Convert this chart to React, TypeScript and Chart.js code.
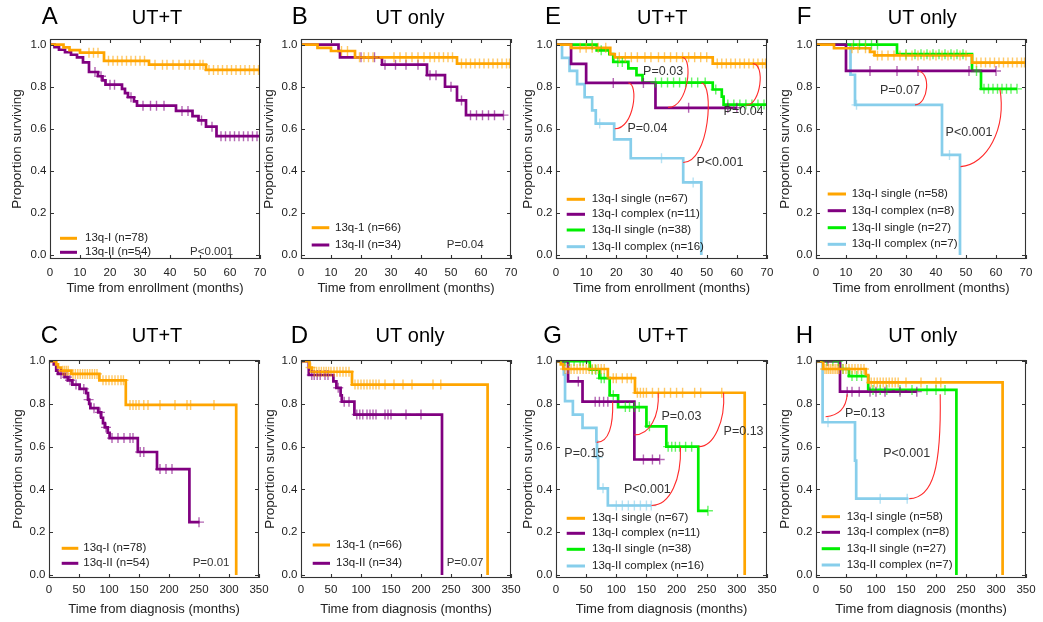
import React, { useEffect, useRef } from "react";
import { Chart, registerables } from "chart.js";
Chart.register(...registerables);

type Step = [number, number];
type Arc = [number, number, number, number, number, number, number, number];
type PLabel = [string, number, number];

const FONT = '"Liberation Sans", Arial, Helvetica, sans-serif';
const ORANGE = "#FFA500";
const PURPLE = "#800080";
const LIME = "#00EE00";
const SKY = "#87CEEB";
const RED = "#FF2A2A";

const ENROLL_TICKS = [0, 10, 20, 30, 40, 50, 60, 70];
const DIAG_TICKS = [0, 50, 100, 150, 200, 250, 300, 350];
const Y_TICKS = [0, 0.2, 0.4, 0.6, 0.8, 1.0];

// ---------- Panel A (UT+T, enrollment) ----------
const A_I_steps: Step[] = [[0, 1], [4.5, 0.987], [6.5, 0.974], [10, 0.962], [18, 0.923], [33, 0.905], [52, 0.88], [70, 0.88]];
const A_I_cens = [13, 14.5, 16, 19.5, 21, 22.5, 24, 25.5, 27, 28.5, 30, 31.5, 35, 37.5, 39, 41, 43, 45, 46.5, 48, 50, 51, 53, 54.5, 56, 57.5, 59, 60.5, 62, 63.5, 65, 66.5, 68, 69.5];
const A_II_steps: Step[] = [[0, 1], [1.5, 0.988], [3, 0.976], [5, 0.964], [7, 0.952], [9, 0.94], [11, 0.916], [13, 0.87], [16, 0.85], [17.5, 0.83], [18.5, 0.81], [24, 0.79], [25, 0.77], [26, 0.75], [28, 0.73], [29, 0.71], [42, 0.685], [47.5, 0.66], [49.5, 0.64], [52, 0.61], [55.5, 0.565], [70, 0.565]];
const A_II_cens = [15, 17, 20, 21.5, 27, 31, 33.5, 35.5, 38, 44, 46, 50.5, 54, 57, 58.5, 60, 61.5, 63, 64.5, 66, 67.5, 69];

// ---------- Panel B (UT only, enrollment) ----------
const B_I_steps: Step[] = [[0, 1], [5.5, 0.985], [10, 0.97], [18, 0.94], [52, 0.91], [70, 0.91]];
const B_I_cens = [13.5, 15.5, 19.5, 21, 22.5, 24, 31, 33, 35, 37, 39, 41, 43, 44.5, 46, 47.5, 49, 50.5, 53.5, 55, 56.5, 58, 59.5, 61, 62.5, 64, 65.5, 67, 68.5, 69.5];
const B_II_steps: Step[] = [[0, 1], [12.5, 0.97], [13, 0.94], [27, 0.905], [42, 0.855], [48, 0.8], [52, 0.735], [55, 0.665], [67.5, 0.665]];
const B_II_cens = [20, 24.5, 28, 31.5, 35, 39, 43, 45, 50, 53.5, 56.5, 58.5, 60.5, 62.5, 64.5, 67.5];

// ---------- Panel C (UT+T, diagnosis) ----------
const C_I_steps: Step[] = [[0, 1], [12, 0.985], [15, 0.97], [20, 0.955], [37, 0.94], [84, 0.91], [128, 0.795], [312, 0]];
const C_I_cens = [23, 26, 29, 32, 40, 44, 48, 52, 56, 60, 64, 68, 72, 76, 80, 90, 95, 100, 105, 110, 115, 120, 124, 135, 140, 145, 150, 158, 165, 185, 210, 230, 236, 275];
const C_II_steps: Step[] = [[0, 1], [8, 0.985], [12, 0.955], [15, 0.94], [26, 0.925], [32, 0.91], [39, 0.89], [51, 0.87], [62, 0.85], [65, 0.82], [67, 0.8], [69, 0.78], [82, 0.76], [87, 0.735], [90, 0.71], [93, 0.69], [98, 0.665], [101, 0.64], [148, 0.575], [180, 0.495], [234, 0.247], [251, 0.247]];
const C_II_cens = [20, 30, 35, 45, 58, 66, 75, 85, 95, 105, 115, 125, 135, 140, 152, 158, 185, 195, 205, 250];

// ---------- Panel D (UT only, diagnosis) ----------
const D_I_steps: Step[] = [[0, 1], [14, 0.97], [18, 0.95], [85, 0.89], [311, 0]];
const D_I_cens = [16, 22, 26, 30, 34, 38, 42, 46, 50, 55, 60, 65, 70, 75, 80, 90, 95, 100, 105, 110, 115, 120, 125, 130, 140, 155, 170, 185, 220, 233];
const D_II_steps: Step[] = [[0, 1], [13, 0.935], [54, 0.905], [59, 0.875], [66, 0.84], [68, 0.81], [89, 0.75], [235, 0]];
const D_II_cens = [18, 22, 27, 32, 40, 45, 62, 72, 80, 93, 98, 103, 110, 115, 120, 125, 140, 145, 150, 175, 200];

// ---------- Panel E (UT+T, enrollment, 4 groups) ----------
const E_Is_steps: Step[] = [[0, 1], [5, 0.985], [18, 0.955], [19.5, 0.94], [52, 0.91], [70, 0.91]];
const E_Is_cens = [8, 10, 12, 14, 16.5, 21, 23, 25, 27, 29.5, 31.5, 34, 36, 38, 40, 42, 44, 46, 48, 50, 53.5, 55, 56.5, 58, 59.5, 61, 62.5, 64, 65.5, 67, 68.5, 69.5];
const E_Ic_steps: Step[] = [[0, 1], [5, 0.909], [10, 0.818], [33, 0.7], [60, 0.7]];
const E_Ic_cens = [19, 29, 44, 57, 60];
const E_IIs_steps: Step[] = [[0, 1], [13.5, 0.973], [17.7, 0.955], [19, 0.918], [24, 0.887], [26.7, 0.855], [28.7, 0.82], [52, 0.787], [55, 0.753], [55.6, 0.715], [70, 0.715]];
const E_IIs_cens = [12, 15, 20.5, 22, 33, 35, 37, 39, 41, 43, 45, 47, 49.5, 53, 57, 59, 61, 63, 65, 67, 69];
const E_IIc_steps: Step[] = [[0, 1], [2, 0.9375], [4.5, 0.875], [7, 0.8125], [9.5, 0.75], [12, 0.6875], [13.2, 0.625], [19.3, 0.55], [24.8, 0.46], [42.2, 0.345], [48.2, 0]];
const E_IIc_cens = [14.5, 35, 45.5];

// ---------- Panel F (UT only, enrollment, 4 groups) ----------
const F_Is_steps: Step[] = [[0, 1], [6, 0.983], [18, 0.966], [19.5, 0.949], [52, 0.915], [70, 0.915]];
const F_Is_cens = [12, 14, 16.5, 20.5, 22, 24, 26, 28, 30, 32, 34, 36, 38, 40, 42, 44, 46, 48, 50, 53.5, 55, 56.5, 58, 59.5, 61, 62.5, 64, 65.5, 67, 68.5, 69.5];
const F_Ic_steps: Step[] = [[0, 1], [10, 0.875], [60, 0.875]];
const F_Ic_cens = [18, 27, 34, 51, 60];
const F_IIs_steps: Step[] = [[0, 1], [27, 0.955], [52, 0.875], [55, 0.79], [67, 0.79]];
const F_IIs_cens = [12.5, 14.5, 16.5, 18.5, 20.5, 30, 33, 35, 37, 39, 41, 43, 45, 47, 49, 53.5, 56, 57.5, 59, 60.5, 62, 63.5, 65, 67];
const F_IIc_steps: Step[] = [[0, 1], [11.5, 0.857], [13, 0.714], [42, 0.476], [48, 0]];
const F_IIc_cens = [13.5, 44.5];

// ---------- Panel G (UT+T, diagnosis, 4 groups) ----------
const G_Is_steps: Step[] = [[0, 1], [8, 0.985], [12, 0.963], [86, 0.92], [131, 0.852], [313, 0]];
const G_Is_cens = [15, 20, 25, 30, 35, 40, 45, 50, 55, 60, 65, 70, 75, 80, 95, 100, 110, 118, 125, 135, 140, 145, 150, 160, 170, 180, 190, 200, 210, 230, 240, 275];
const G_Ic_steps: Step[] = [[0, 1], [20, 0.905], [44, 0.81], [130, 0.54], [172, 0.54]];
const G_Ic_cens = [37, 65, 72, 79, 86, 145, 160, 172];
const G_IIs_steps: Step[] = [[0, 1], [56, 0.96], [72, 0.92], [89, 0.84], [103, 0.785], [150, 0.695], [183, 0.6], [236, 0.3], [252, 0.3]];
const G_IIs_cens = [15, 22, 30, 40, 45, 60, 66, 75, 80, 95, 115, 122, 130, 138, 155, 186, 192, 198, 205, 215, 225, 252];
const G_IIc_steps: Step[] = [[0, 1], [13, 0.9375], [15, 0.8125], [28, 0.75], [44, 0.6875], [67, 0.625], [68, 0.55], [70, 0.405], [86, 0.325], [158, 0.325]];
const G_IIc_cens = [69, 78, 100, 110, 120, 130, 140, 150, 158];

// ---------- Panel H (UT only, diagnosis, 4 groups) ----------
const H_Is_steps: Step[] = [[0, 1], [12, 0.963], [83, 0.935], [87, 0.9], [311, 0]];
const H_Is_cens = [15, 18, 21, 24, 27, 30, 33, 36, 39, 45, 50, 55, 60, 65, 70, 75, 80, 92, 97, 102, 107, 112, 117, 122, 127, 132, 137, 150, 175, 200, 208];
const H_Ic_steps: Step[] = [[0, 1], [40, 0.857], [168, 0.857]];
const H_Ic_cens = [20, 52, 60, 72, 90, 100, 115, 140, 168];
const H_IIs_steps: Step[] = [[0, 1], [40, 0.963], [55, 0.93], [87, 0.865], [234, 0]];
const H_IIs_cens = [18, 28, 37, 45, 60, 68, 76, 95, 107, 118, 140, 160, 185, 200, 215];
const H_IIc_steps: Step[] = [[0, 1], [11, 0.714], [65, 0.535], [67, 0.357], [154, 0.357]];
const H_IIc_cens = [20, 107, 152];

// ---------- P-value annotations (data coords) ----------
const A_P: PLabel[] = [["P<0.001", 46.7, 0.013]];
const B_P: PLabel[] = [["P=0.04", 48.6, 0.048]];
const C_P: PLabel[] = [["P=0.01", 239.5, 0.055]];
const D_P: PLabel[] = [["P=0.07", 242.8, 0.055]];
const E_P: PLabel[] = [["P=0.03", 28.9, 0.871], ["P=0.04", 55.6, 0.682], ["P=0.04", 23.7, 0.603], ["P<0.001", 46.6, 0.441]];
const F_P: PLabel[] = [["P=0.07", 21.3, 0.781], ["P<0.001", 43.2, 0.58]];
const G_P: PLabel[] = [["P=0.15", 13.8, 0.57], ["P=0.03", 175, 0.742], ["P=0.13", 278, 0.669], ["P<0.001", 112.6, 0.398]];
const H_P: PLabel[] = [["P=0.13", 48.3, 0.755], ["P<0.001", 112, 0.567]];

// connector arcs: start, control1, control2, end (data coords)
const E_ARCS: Arc[] = [
  [37.2, 0.702, 44, 0.7, 45.5, 0.94, 41.9, 0.939],
  [63.1, 0.712, 68, 0.712, 69.5, 0.91, 65.3, 0.91],
  [19.5, 0.6, 26, 0.6, 27.5, 0.818, 24, 0.818],
  [42.2, 0.44, 51, 0.44, 52.5, 0.818, 48.2, 0.818],
];
const F_ARCS: Arc[] = [
  [33, 0.714, 37.5, 0.714, 38.5, 0.875, 33.8, 0.875],
  [48.2, 0.42, 57, 0.43, 63.5, 0.6, 61.3, 0.79],
];
const G_ARCS: Arc[] = [
  [67.5, 0.62, 88, 0.62, 95, 0.7, 94, 0.81],
  [130, 0.655, 155, 0.655, 172, 0.74, 169.5, 0.852],
  [237, 0.6, 262, 0.6, 281, 0.72, 278, 0.852],
  [158.5, 0.325, 190, 0.325, 208, 0.45, 206.5, 0.6],
];
const H_ARCS: Arc[] = [
  [16, 0.74, 35, 0.745, 50, 0.77, 52, 0.845],
  [155.5, 0.357, 195, 0.36, 209, 0.5, 207, 0.845],
];

type Series = { label: string; color: string; steps: Step[]; cens: number[] };
type Box = { l: number; t: number; r: number; b: number };
type Panel = {
  letter: string; title: string; xTitle: string; xTicks: number[];
  yMin: number; yMax: number; box: Box; top: number; bottom: number;
  letterX: number; letterY: number; titleX: number; titleY: number;
  yTitleX: number; xTitleY: number; xTickPad: number;
  legend: { x1: number; x2: number; tx: number; rows: number[] };
  series: Series[]; pLabels: PLabel[]; pSize: number; arcs: Arc[];
};

function survAt(steps: Step[], t: number) {
  let s = steps[0][1];
  for (const [tt, v] of steps) {
    if (tt <= t) s = v; else break;
  }
  return s;
}
function withAlpha(hex: string, a: number) {
  const n = parseInt(hex.slice(1), 16);
  return `rgba(${(n >> 16) & 255},${(n >> 8) & 255},${n & 255},${a})`;
}

const TOP_ROW = { top: 0, bottom: 305, yMin: -0.019, yMax: 1.027, t: 39, b: 259, xTitleY: 288, xTickPad: 7, letterY: 17, titleY: 18 };
const BOT_ROW = { top: 315, bottom: 622, yMin: -0.014, yMax: 1.005, t: 360, b: 578, xTitleY: 609, xTickPad: 4.5, letterY: 336.5, titleY: 336 };

const ENR = "Time from enrollment (months)";
const DIA = "Time from diagnosis (months)";

const PANELS: Panel[] = [
  {
    letter: "A", title: "UT+T", xTitle: ENR, xTicks: ENROLL_TICKS, yMin: TOP_ROW.yMin, yMax: TOP_ROW.yMax,
    box: { l: 50, t: TOP_ROW.t, r: 260, b: TOP_ROW.b }, top: TOP_ROW.top, bottom: TOP_ROW.bottom,
    letterX: 41.7, letterY: TOP_ROW.letterY, titleX: 157, titleY: TOP_ROW.titleY, yTitleX: 17, xTitleY: TOP_ROW.xTitleY, xTickPad: TOP_ROW.xTickPad,
    legend: { x1: 60, x2: 77, tx: 85, rows: [238.3, 252.3] },
    series: [
      { label: "13q-I (n=78)", color: ORANGE, steps: A_I_steps, cens: A_I_cens },
      { label: "13q-II (n=54)", color: PURPLE, steps: A_II_steps, cens: A_II_cens },
    ], pLabels: A_P, pSize: 11.5, arcs: [],
  },
  {
    letter: "B", title: "UT only", xTitle: ENR, xTicks: ENROLL_TICKS, yMin: TOP_ROW.yMin, yMax: TOP_ROW.yMax,
    box: { l: 301, t: TOP_ROW.t, r: 511, b: TOP_ROW.b }, top: TOP_ROW.top, bottom: TOP_ROW.bottom,
    letterX: 291.7, letterY: TOP_ROW.letterY, titleX: 410, titleY: TOP_ROW.titleY, yTitleX: 269, xTitleY: TOP_ROW.xTitleY, xTickPad: TOP_ROW.xTickPad,
    legend: { x1: 311.7, x2: 329.3, tx: 335, rows: [227.7, 245] },
    series: [
      { label: "13q-1 (n=66)", color: ORANGE, steps: B_I_steps, cens: B_I_cens },
      { label: "13q-II (n=34)", color: PURPLE, steps: B_II_steps, cens: B_II_cens },
    ], pLabels: B_P, pSize: 11.5, arcs: [],
  },
  {
    letter: "E", title: "UT+T", xTitle: ENR, xTicks: ENROLL_TICKS, yMin: TOP_ROW.yMin, yMax: TOP_ROW.yMax,
    box: { l: 556, t: TOP_ROW.t, r: 767, b: TOP_ROW.b }, top: TOP_ROW.top, bottom: TOP_ROW.bottom,
    letterX: 545, letterY: TOP_ROW.letterY, titleX: 662.3, titleY: TOP_ROW.titleY, yTitleX: 528, xTitleY: TOP_ROW.xTitleY, xTickPad: TOP_ROW.xTickPad,
    legend: { x1: 566.7, x2: 585, tx: 591.7, rows: [199.3, 214.3, 230, 246.7] },
    series: [
      { label: "13q-I single (n=67)", color: ORANGE, steps: E_Is_steps, cens: E_Is_cens },
      { label: "13q-I complex (n=11)", color: PURPLE, steps: E_Ic_steps, cens: E_Ic_cens },
      { label: "13q-II single (n=38)", color: LIME, steps: E_IIs_steps, cens: E_IIs_cens },
      { label: "13q-II complex (n=16)", color: SKY, steps: E_IIc_steps, cens: E_IIc_cens },
    ], pLabels: E_P, pSize: 12.5, arcs: E_ARCS,
  },
  {
    letter: "F", title: "UT only", xTitle: ENR, xTicks: ENROLL_TICKS, yMin: TOP_ROW.yMin, yMax: TOP_ROW.yMax,
    box: { l: 816, t: TOP_ROW.t, r: 1026, b: TOP_ROW.b }, top: TOP_ROW.top, bottom: TOP_ROW.bottom,
    letterX: 796.7, letterY: TOP_ROW.letterY, titleX: 922.3, titleY: TOP_ROW.titleY, yTitleX: 785, xTitleY: TOP_ROW.xTitleY, xTickPad: TOP_ROW.xTickPad,
    legend: { x1: 827.7, x2: 846, tx: 851.7, rows: [194, 210.7, 227.7, 244.3] },
    series: [
      { label: "13q-I single (n=58)", color: ORANGE, steps: F_Is_steps, cens: F_Is_cens },
      { label: "13q-I complex (n=8)", color: PURPLE, steps: F_Ic_steps, cens: F_Ic_cens },
      { label: "13q-II single (n=27)", color: LIME, steps: F_IIs_steps, cens: F_IIs_cens },
      { label: "13q-II complex (n=7)", color: SKY, steps: F_IIc_steps, cens: F_IIc_cens },
    ], pLabels: F_P, pSize: 12.5, arcs: F_ARCS,
  },
  {
    letter: "C", title: "UT+T", xTitle: DIA, xTicks: DIAG_TICKS, yMin: BOT_ROW.yMin, yMax: BOT_ROW.yMax,
    box: { l: 49, t: BOT_ROW.t, r: 259, b: BOT_ROW.b }, top: BOT_ROW.top, bottom: BOT_ROW.bottom,
    letterX: 40.7, letterY: BOT_ROW.letterY, titleX: 157, titleY: BOT_ROW.titleY, yTitleX: 18, xTitleY: BOT_ROW.xTitleY, xTickPad: BOT_ROW.xTickPad,
    legend: { x1: 61.7, x2: 78.3, tx: 83.3, rows: [548.3, 563.3] },
    series: [
      { label: "13q-I (n=78)", color: ORANGE, steps: C_I_steps, cens: C_I_cens },
      { label: "13q-II (n=54)", color: PURPLE, steps: C_II_steps, cens: C_II_cens },
    ], pLabels: C_P, pSize: 11.5, arcs: [],
  },
  {
    letter: "D", title: "UT only", xTitle: DIA, xTicks: DIAG_TICKS, yMin: BOT_ROW.yMin, yMax: BOT_ROW.yMax,
    box: { l: 301, t: BOT_ROW.t, r: 511, b: BOT_ROW.b }, top: BOT_ROW.top, bottom: BOT_ROW.bottom,
    letterX: 290.7, letterY: BOT_ROW.letterY, titleX: 410, titleY: BOT_ROW.titleY, yTitleX: 270, xTitleY: BOT_ROW.xTitleY, xTickPad: BOT_ROW.xTickPad,
    legend: { x1: 312.7, x2: 330, tx: 336, rows: [545, 563.3] },
    series: [
      { label: "13q-1 (n=66)", color: ORANGE, steps: D_I_steps, cens: D_I_cens },
      { label: "13q-II (n=34)", color: PURPLE, steps: D_II_steps, cens: D_II_cens },
    ], pLabels: D_P, pSize: 11.5, arcs: [],
  },
  {
    letter: "G", title: "UT+T", xTitle: DIA, xTicks: DIAG_TICKS, yMin: BOT_ROW.yMin, yMax: BOT_ROW.yMax,
    box: { l: 556, t: BOT_ROW.t, r: 767, b: BOT_ROW.b }, top: BOT_ROW.top, bottom: BOT_ROW.bottom,
    letterX: 543.3, letterY: BOT_ROW.letterY, titleX: 662.7, titleY: BOT_ROW.titleY, yTitleX: 528, xTitleY: BOT_ROW.xTitleY, xTickPad: BOT_ROW.xTickPad,
    legend: { x1: 566.7, x2: 585, tx: 592, rows: [518.3, 533.3, 549.3, 566] },
    series: [
      { label: "13q-I single (n=67)", color: ORANGE, steps: G_Is_steps, cens: G_Is_cens },
      { label: "13q-I complex (n=11)", color: PURPLE, steps: G_Ic_steps, cens: G_Ic_cens },
      { label: "13q-II single (n=38)", color: LIME, steps: G_IIs_steps, cens: G_IIs_cens },
      { label: "13q-II complex (n=16)", color: SKY, steps: G_IIc_steps, cens: G_IIc_cens },
    ], pLabels: G_P, pSize: 12.5, arcs: G_ARCS,
  },
  {
    letter: "H", title: "UT only", xTitle: DIA, xTicks: DIAG_TICKS, yMin: BOT_ROW.yMin, yMax: BOT_ROW.yMax,
    box: { l: 816, t: BOT_ROW.t, r: 1026, b: BOT_ROW.b }, top: BOT_ROW.top, bottom: BOT_ROW.bottom,
    letterX: 795.7, letterY: BOT_ROW.letterY, titleX: 922.7, titleY: BOT_ROW.titleY, yTitleX: 785, xTitleY: BOT_ROW.xTitleY, xTickPad: BOT_ROW.xTickPad,
    legend: { x1: 821.7, x2: 840, tx: 846.7, rows: [516.7, 532.3, 548.7, 565] },
    series: [
      { label: "13q-I single (n=58)", color: ORANGE, steps: H_Is_steps, cens: H_Is_cens },
      { label: "13q-I complex (n=8)", color: PURPLE, steps: H_Ic_steps, cens: H_Ic_cens },
      { label: "13q-II single (n=27)", color: LIME, steps: H_IIs_steps, cens: H_IIs_cens },
      { label: "13q-II complex (n=7)", color: SKY, steps: H_IIc_steps, cens: H_IIc_cens },
    ], pLabels: H_P, pSize: 12.5, arcs: H_ARCS,
  },
];

function KMPanel({ p }: { p: Panel }) {
  const ref = useRef<HTMLCanvasElement | null>(null);
  const cl = p.box.l - 48;
  const cr = Math.min(p.box.r + 16, 1043);
  const W = cr - cl;
  const H = p.bottom - p.top;

  useEffect(() => {
    const canvas = ref.current;
    if (!canvas) return;
    const yAxisW = p.box.l - cl;
    const xAxisH = p.bottom - p.box.b;
    const datasets: any[] = [];
    p.series.forEach((s) =>
      datasets.push({
        label: s.label,
        data: s.steps.map(([x, y]) => ({ x, y })),
        borderColor: s.color,
        backgroundColor: s.color,
        borderWidth: 2.7,
        stepped: true,
        pointRadius: 0,
        pointHoverRadius: 0,
        fill: false,
        order: 2,
      })
    );
    p.series.forEach((s) =>
      datasets.push({
        label: s.label + " censored",
        data: s.cens.map((t) => ({ x: t, y: survAt(s.steps, t) })),
        showLine: false,
        pointStyle: "cross",
        pointRadius: 5,
        pointHoverRadius: 5,
        pointBorderWidth: 1.4,
        pointBorderColor: withAlpha(s.color, 0.6),
        borderColor: withAlpha(s.color, 0.6),
        backgroundColor: "transparent",
        order: 1,
      })
    );

    const px = (x: number) => x - cl;
    const py = (y: number) => y - p.top;

    const deco = {
      id: "deco",
      afterDatasetsDraw(chart: any) {
        const ctx = chart.ctx;
        const xs = chart.scales.x;
        const ys = chart.scales.y;
        ctx.save();
        ctx.strokeStyle = RED;
        ctx.lineWidth = 1.1;
        for (const a of p.arcs) {
          ctx.beginPath();
          ctx.moveTo(xs.getPixelForValue(a[0]), ys.getPixelForValue(a[1]));
          ctx.bezierCurveTo(
            xs.getPixelForValue(a[2]), ys.getPixelForValue(a[3]),
            xs.getPixelForValue(a[4]), ys.getPixelForValue(a[5]),
            xs.getPixelForValue(a[6]), ys.getPixelForValue(a[7])
          );
          ctx.stroke();
        }
        ctx.restore();
      },
      afterDraw(chart: any) {
        const ctx = chart.ctx;
        const ca = chart.chartArea;
        const xs = chart.scales.x;
        const ys = chart.scales.y;
        ctx.save();
        // frame
        ctx.strokeStyle = "#333";
        ctx.lineWidth = 1.1;
        ctx.strokeRect(ca.left + 0.5, ca.top + 0.5, ca.right - ca.left - 1, ca.bottom - ca.top - 1);
        // inward ticks on all sides
        ctx.beginPath();
        for (const v of Y_TICKS) {
          const yy = Math.round(ys.getPixelForValue(v)) + 0.5;
          ctx.moveTo(ca.left, yy); ctx.lineTo(ca.left + 4, yy);
          ctx.moveTo(ca.right, yy); ctx.lineTo(ca.right - 4, yy);
        }
        for (const v of p.xTicks) {
          const xx = Math.round(xs.getPixelForValue(v)) + 0.5;
          ctx.moveTo(xx, ca.bottom); ctx.lineTo(xx, ca.bottom - 4);
          ctx.moveTo(xx, ca.top); ctx.lineTo(xx, ca.top + 4);
        }
        ctx.stroke();
        // legend
        ctx.font = `11.5px ${FONT}`;
        ctx.textBaseline = "middle";
        ctx.textAlign = "left";
        p.series.forEach((s, i) => {
          const ry = py(p.legend.rows[i]);
          ctx.strokeStyle = s.color;
          ctx.lineWidth = 3;
          ctx.beginPath();
          ctx.moveTo(px(p.legend.x1), ry);
          ctx.lineTo(px(p.legend.x2), ry);
          ctx.stroke();
          ctx.fillStyle = "#222";
          ctx.fillText(s.label, px(p.legend.tx), ry);
        });
        // p-values
        ctx.font = `${p.pSize}px ${FONT}`;
        ctx.fillStyle = "#333";
        for (const [txt, x, y] of p.pLabels) {
          ctx.fillText(txt, xs.getPixelForValue(x), ys.getPixelForValue(y));
        }
        // panel letter and title
        ctx.fillStyle = "#000";
        ctx.font = `24px ${FONT}`;
        ctx.fillText(p.letter, px(p.letterX), py(p.letterY));
        ctx.font = `20px ${FONT}`;
        ctx.textAlign = "center";
        ctx.fillText(p.title, px(p.titleX), py(p.titleY));
        ctx.restore();
      },
    };

    const chart = new Chart(canvas, {
      type: "line",
      data: { datasets },
      options: {
        animation: false,
        responsive: false,
        devicePixelRatio: 1,
        events: [],
        layout: {
          autoPadding: false,
          padding: { top: p.box.t - p.top, right: cr - p.box.r, left: 0, bottom: 0 },
        },
        plugins: { legend: { display: false }, tooltip: { enabled: false } },
        scales: {
          x: {
            type: "linear",
            min: 0,
            max: p.xTicks[p.xTicks.length - 1],
            grid: { display: false, drawTicks: false },
            border: { display: false },
            afterBuildTicks: (s: any) => { s.ticks = p.xTicks.map((v) => ({ value: v })); },
            afterFit: (s: any) => { s.height = xAxisH; },
            ticks: {
              font: { family: FONT, size: 11.5 }, color: "#222", padding: p.xTickPad,
              maxRotation: 0, autoSkip: false, callback: (v: any) => String(v),
            },
            title: {
              display: true, text: p.xTitle, color: "#222",
              font: { family: FONT, size: 13 },
              padding: { top: 0, bottom: p.bottom - p.xTitleY - 7.8 },
            },
          },
          y: {
            type: "linear",
            min: p.yMin,
            max: p.yMax,
            grid: { display: false, drawTicks: false },
            border: { display: false },
            afterBuildTicks: (s: any) => { s.ticks = Y_TICKS.map((v) => ({ value: v })); },
            afterFit: (s: any) => { s.width = yAxisW; },
            ticks: {
              font: { family: FONT, size: 11.5 }, color: "#222", padding: 3.5,
              callback: (v: any) => Number(v).toFixed(1),
            },
            title: {
              display: true, text: "Proportion surviving", color: "#222",
              font: { family: FONT, size: 13.5 },
              padding: { top: p.yTitleX - cl - 8.1, bottom: 0 },
            },
          },
        },
      } as any,
      plugins: [deco],
    });
    return () => chart.destroy();
  }, []);

  return (
    <canvas
      ref={ref}
      width={W}
      height={H}
      style={{ position: "absolute", left: cl, top: p.top, width: W, height: H }}
    />
  );
}

export default function App() {
  return (
    <div style={{ position: "absolute", left: 0, top: 0, width: 1043, height: 622, background: "#fff", overflow: "hidden" }}>
      {PANELS.map((p) => (
        <KMPanel key={p.letter} p={p} />
      ))}
    </div>
  );
}
